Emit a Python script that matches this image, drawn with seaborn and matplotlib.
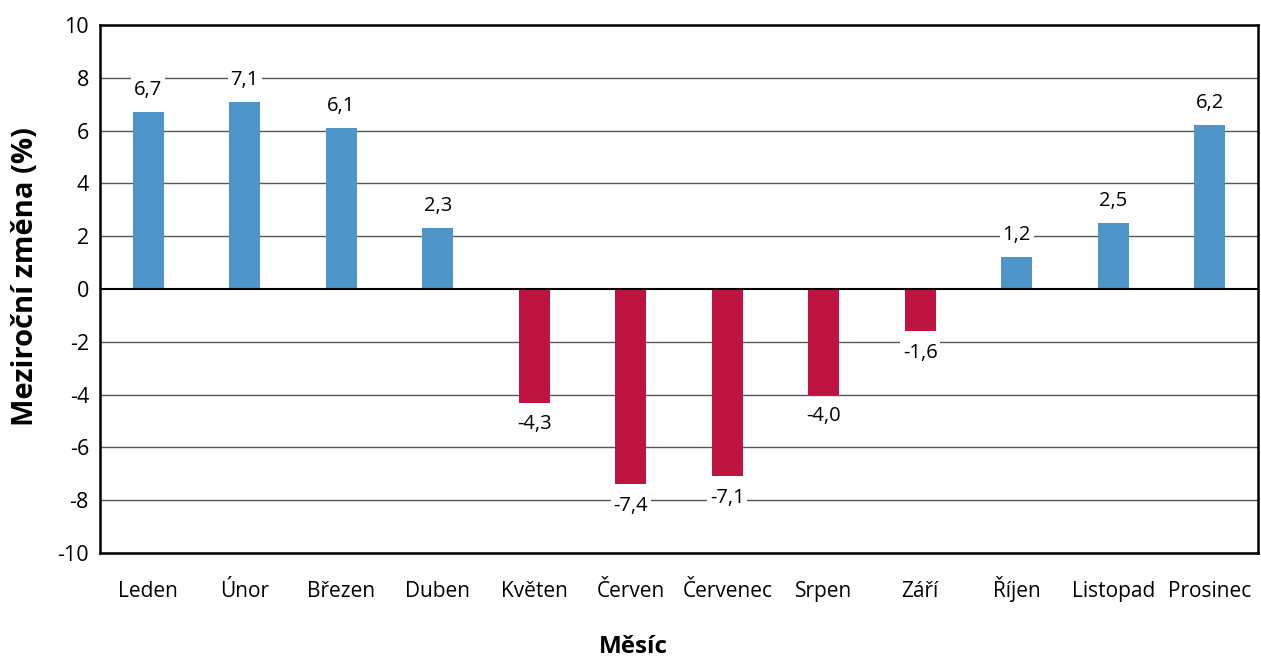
import matplotlib
matplotlib.use("Agg")
import matplotlib.pyplot as plt
import seaborn as sns
import pandas as pd

months = ["Leden", "Únor", "Březen", "Duben", "Květen", "Červen", "Červenec",
          "Srpen", "Září", "Říjen", "Listopad", "Prosinec"]
values = [6.7, 7.1, 6.1, 2.3, -4.3, -7.4, -7.1, -4.0, -1.6, 1.2, 2.5, 6.2]
yticks = [-10, -8, -6, -4, -2, 0, 2, 4, 6, 8, 10]

sns.set_theme(style="white")
plt.rcParams['font.family'] = ['Open Sans', 'DejaVu Sans']

BLUE = "#4E95C9"
RED = "#BE1540"
df = pd.DataFrame({"Měsíc": months, "val": values})
df["sign"] = ["pos" if v >= 0 else "neg" for v in values]

fig = plt.figure(figsize=(12.61, 6.59), dpi=100)
ax = fig.add_axes([100/1261, 1-553/659, 1158/1261, 528/659])

sns.barplot(data=df, x="Měsíc", y="val", hue="sign", palette={"pos": BLUE, "neg": RED},
            width=0.32, dodge=False, legend=False, ax=ax, zorder=3, saturation=1,
            linewidth=0, edgecolor="none")

ax.set_ylim(-10, 10)
ax.set_yticks(yticks)
ax.set_yticklabels([str(t) for t in yticks], fontsize=15.5)
ax.set_xlim(-0.5, 11.5)
ax.tick_params(axis='x', labelsize=15, pad=32, length=0)
ax.tick_params(axis='y', length=0, pad=8)
for lab in ax.get_xticklabels():
    lab.set_color("black")
    lab.set_verticalalignment("baseline")
for lab in ax.get_yticklabels():
    lab.set_color("black")
for t in yticks:
    if t != 0:
        ax.axhline(t, color="#555555", lw=1.0, zorder=1)
ax.axhline(0, color="black", lw=1.5, zorder=4)
for s in ax.spines.values():
    s.set_color("black")
    s.set_linewidth(1.8)
    s.set_visible(True)

for i, v in enumerate(values):
    lab = f"{v:.1f}".replace(".", ",")
    if v >= 0:
        ax.text(i, v + 0.45, lab, ha="center", va="bottom", fontsize=14.5, zorder=5,
                color="black", bbox=dict(facecolor="white", edgecolor="none", pad=2))
    else:
        ax.text(i, v - 0.45, lab, ha="center", va="top", fontsize=14.5, zorder=5,
                color="black", bbox=dict(facecolor="white", edgecolor="none", pad=2))

ax.set_xlabel("Měsíc", fontsize=17.5, fontweight="bold", color="black")
ax.xaxis.label.set_verticalalignment("baseline")
ax.xaxis.set_label_coords((633 - 100) / 1158, (553 - 653) / 528)
ax.set_ylabel("Meziroční změna (%)", fontsize=21, fontweight="bold", color="black")
ax.yaxis.label.set_verticalalignment("center")
ax.yaxis.set_label_coords((26 - 100) / 1158, (553 - 277) / 528)

fig.savefig("out.png", dpi=100)
